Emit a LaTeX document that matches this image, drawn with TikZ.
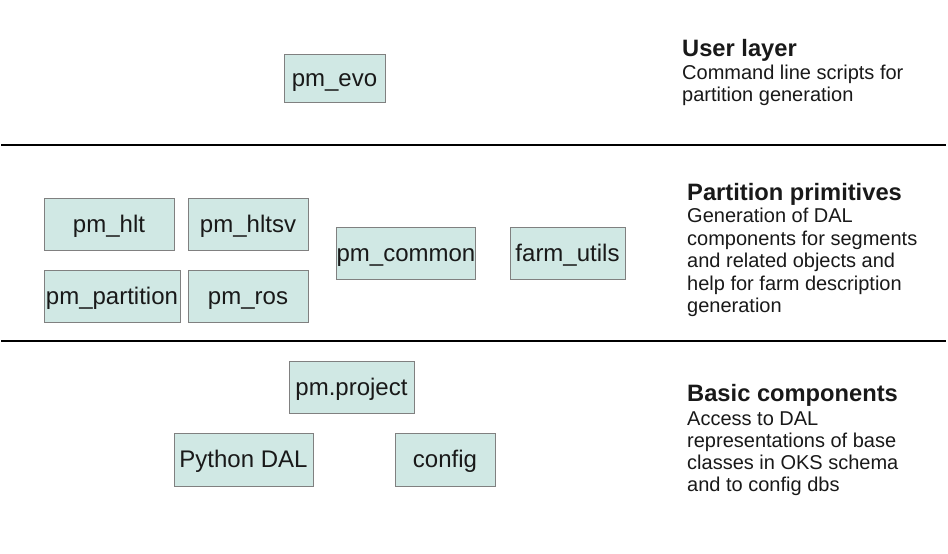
\documentclass[tikz,border=0pt]{standalone}
\usepackage{fontspec}
\setmainfont{Liberation Sans}
\definecolor{boxfill}{RGB}{208,232,228}
\definecolor{boxline}{RGB}{128,128,128}
\tikzset{
  pkg/.style={draw=boxline, fill=boxfill, line width=1pt, inner sep=0pt,
    text height=18pt, text depth=2pt,
    font=\fontsize{24}{28}\selectfont, text=black!90},
  hdr/.style={anchor=base west, inner sep=0pt, font=\fontsize{23.7}{27}\selectfont\bfseries, text=black!90},
  desc/.style={anchor=base west, inner sep=0pt, font=\fontsize{20}{22.5}\selectfont, text=black!90},
  sep/.style={line width=1.1pt, black}
}
\begin{document}
\begin{tikzpicture}[x=1pt,y=-1pt]
\useasboundingbox[fill=white] (0,0) rectangle (948,554);
% separators
\coordinate (s1l) at (1,145); \coordinate (s1r) at (946,145);
\coordinate (s2l) at (1,341); \coordinate (s2r) at (946,341);
\draw[sep] (s1l) -- (s1r);
\draw[sep] (s2l) -- (s2r);
% packages
\node[pkg, minimum width=101pt, minimum height=48pt] (evo) at (334.5,78) {pm\_evo};
\node[pkg, minimum width=130pt, minimum height=52pt] (hlt) at (109,224) {pm\_hlt};
\node[pkg, minimum width=120pt, minimum height=52pt] (hltsv) at (248,224) {pm\_hltsv};
\node[pkg, minimum width=136pt, minimum height=52pt] (part) at (112,296) {pm\_partition};
\node[pkg, minimum width=120pt, minimum height=52pt] (ros) at (248,296) {pm\_ros};
\node[pkg, minimum width=138pt, minimum height=52pt] (common) at (406,253) {pm\_common};
\node[pkg, minimum width=115pt, minimum height=52pt] (farm) at (567.5,253) {farm\_utils};
\node[pkg, minimum width=125pt, minimum height=52pt] (proj) at (351.5,387) {pm.project};
\node[pkg, minimum width=139pt, minimum height=53pt] (dal) at (243.5,459.5) {Python DAL};
\node[pkg, minimum width=100pt, minimum height=53pt] (config) at (445,459.5) {config};
% layer descriptions
\node[hdr] (h1) at (682,56) {User layer};
\node[desc] (d1a) at (682,79) {Command line scripts for};
\node[desc] (d1b) at (682,101.5) {partition generation};
\node[hdr] (h2) at (687,200) {Partition primitives};
\node[desc] (d2a) at (687,222.5) {Generation of DAL};
\node[desc] (d2b) at (687,245) {components for segments};
\node[desc] (d2c) at (687,267.5) {and related objects and};
\node[desc] (d2d) at (687,290) {help for farm description};
\node[desc] (d2e) at (687,312) {generation};
\node[hdr] (h3) at (687,401) {Basic components};
\node[desc] (d3a) at (687,425) {Access to DAL};
\node[desc] (d3b) at (687,447) {representations of base};
\node[desc] (d3c) at (687,469) {classes in OKS schema};
\node[desc] (d3d) at (687,491) {and to config dbs};
\end{tikzpicture}
\end{document}
